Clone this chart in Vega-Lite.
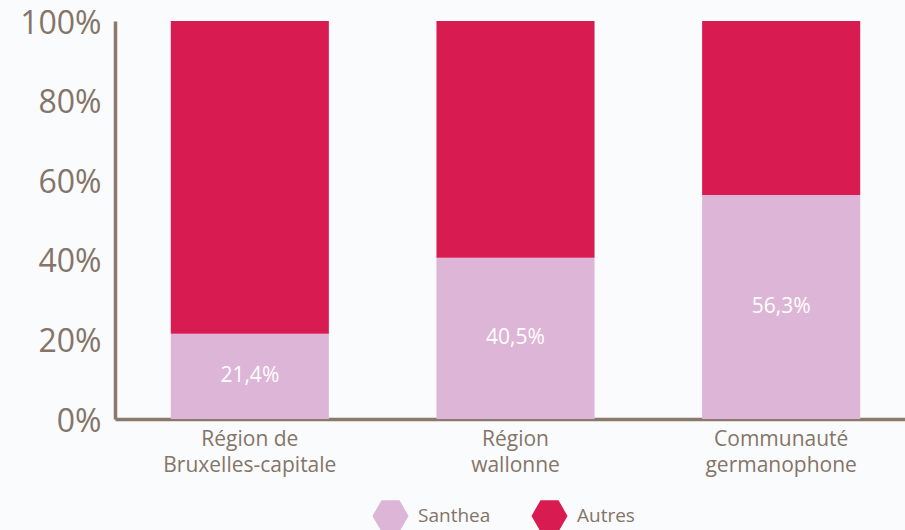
{
  "$schema": "https://vega.github.io/schema/vega-lite/v6.json",
  "width": 801,
  "height": 398,
  "autosize": {"type": "none"},
  "padding": {"left": 115, "top": 21, "right": 0, "bottom": 111},
  "background": "#fafbfc",
  "config": {
    "view": {"stroke": null},
    "font": "Open Sans"
  },
  "data": {
    "values": [
      {"region": "Région de Bruxelles-capitale", "groupe": "Santhea", "ordre": 1, "valeur": 21.4, "label": "21,4%"},
      {"region": "Région de Bruxelles-capitale", "groupe": "Autres", "ordre": 2, "valeur": 78.6, "label": ""},
      {"region": "Région wallonne", "groupe": "Santhea", "ordre": 1, "valeur": 40.5, "label": "40,5%"},
      {"region": "Région wallonne", "groupe": "Autres", "ordre": 2, "valeur": 59.5, "label": ""},
      {"region": "Communauté germanophone", "groupe": "Santhea", "ordre": 1, "valeur": 56.3, "label": "56,3%"},
      {"region": "Communauté germanophone", "groupe": "Autres", "ordre": 2, "valeur": 43.7, "label": ""}
    ]
  },
  "encoding": {
    "x": {
      "field": "region",
      "type": "nominal",
      "sort": ["Région de Bruxelles-capitale", "Région wallonne", "Communauté germanophone"],
      "scale": {"paddingInner": 0.405, "paddingOuter": 0.21},
      "axis": {
        "title": null,
        "labelAngle": 0,
        "ticks": false,
        "domainColor": "#8a7a6e",
        "domainWidth": 3.5,
        "labelColor": "#857468",
        "labelFontSize": 21,
        "labelPadding": 9,
        "labelLineHeight": 26,
        "labelExpr": "datum.label == 'Région de Bruxelles-capitale' ? ['Région de', 'Bruxelles-capitale'] : datum.label == 'Région wallonne' ? ['Région', 'wallonne'] : ['Communauté', 'germanophone']"
      }
    }
  },
  "layer": [
    {
      "mark": {"type": "bar"},
      "encoding": {
        "y": {
          "field": "valeur",
          "type": "quantitative",
          "stack": "zero",
          "scale": {"domain": [0, 100], "nice": false},
          "axis": {
            "title": null,
            "values": [0, 20, 40, 60, 80, 100],
            "labelExpr": "datum.value + '%'",
            "grid": false,
            "ticks": false,
            "domainColor": "#8a7a6e",
            "domainWidth": 3.5,
            "labelColor": "#857468",
            "labelFontSize": 32,
            "labelPadding": 14,
            "labelOffset": 2
          }
        },
        "order": {"field": "ordre"},
        "color": {
          "field": "groupe",
          "type": "nominal",
          "sort": ["Santhea", "Autres"],
          "scale": {"domain": ["Santhea", "Autres"], "range": ["#ddb5d6", "#d81b50"]},
          "legend": {
            "title": null,
            "orient": "none",
            "legendX": 257,
            "legendY": 476,
            "direction": "horizontal",
            "symbolType": "M-1,0L-0.5,-0.866L0.5,-0.866L1,0L0.5,0.866L-0.5,0.866Z",
            "symbolSize": 1300,
            "symbolStrokeWidth": 0,
            "symbolOpacity": 1,
            "labelFontSize": 19,
            "labelColor": "#857468",
            "labelOffset": 9,
            "columnPadding": 40
          }
        }
      }
    },
    {
      "transform": [{"filter": "datum.groupe == 'Santhea'"}, {"calculate": "datum.valeur / 2", "as": "mid"}],
      "mark": {"type": "text", "color": "white", "fontSize": 21, "baseline": "middle"},
      "encoding": {
        "y": {"field": "mid", "type": "quantitative"},
        "text": {"field": "label"}
      }
    }
  ]
}
